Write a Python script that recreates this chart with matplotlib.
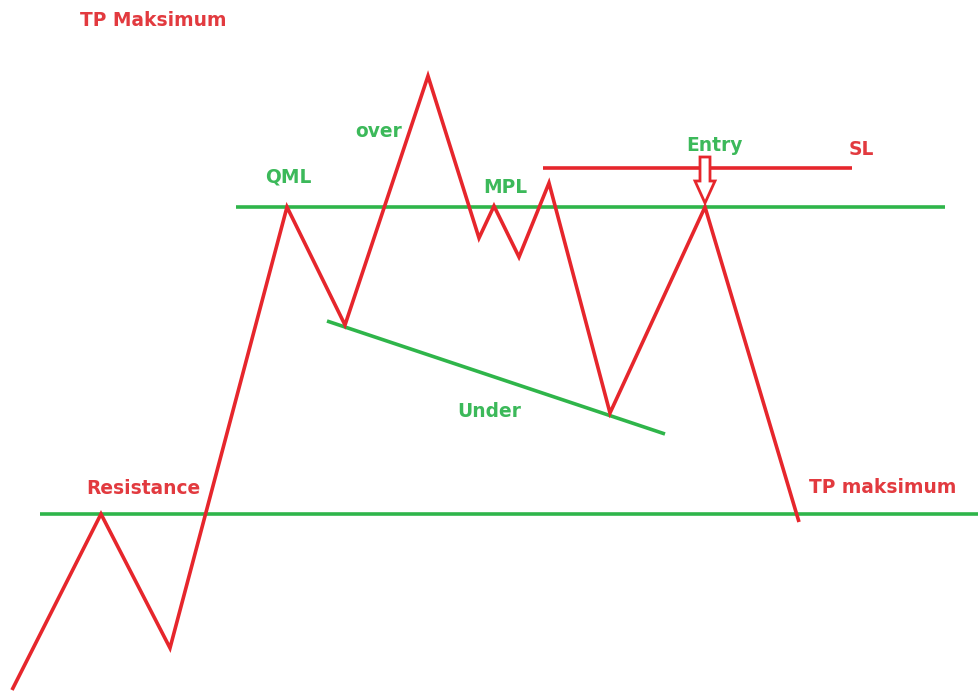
import matplotlib
matplotlib.use("Agg")
import matplotlib.pyplot as plt
from matplotlib.patches import Polygon

# Price path (pixel-space diagram coordinates)
path_x = [12, 101, 170, 287, 345, 428, 479, 494, 519, 549, 610, 705, 799]
path_y = [690, 514, 648, 207, 325, 76, 238, 206, 257, 183, 413, 207, 522]

# Horizontal levels: (y, x_start, x_end)
qml_level = (207, 236, 945)
resistance_level = (514, 40, 979)
sl_level = (168, 543, 852)
# Trendline "Under"
under_x = [327, 665]
under_y = [321, 434]

# Labels: (text, x, y, color, ha)
labels = [
    ("TP Maksimum", 80, 20, "red", "left"),
    ("QML", 288, 177, "green", "center"),
    ("over", 379, 131, "green", "center"),
    ("MPL", 505, 187, "green", "center"),
    ("Entry", 714, 145, "green", "center"),
    ("SL", 861, 149, "red", "center"),
    ("Under", 489, 411, "green", "center"),
    ("Resistance", 143, 488, "red", "center"),
    ("TP maksimum", 883, 487, "red", "center"),
]
entry_x, entry_top, entry_tip = 705, 157, 203

RED = "#e6262c"
GREEN = "#2fb54a"
TEXT_RED = "#e23a3f"
TEXT_GREEN = "#3cb95a"

fig = plt.figure(figsize=(9.79, 6.94), dpi=100)
ax = fig.add_axes([0, 0, 1, 1])
ax.set_xlim(0, 979)
ax.set_ylim(694, 0)
ax.axis("off")

lw = 2.6
ax.plot([qml_level[1], qml_level[2]], [qml_level[0]] * 2, color=GREEN, lw=lw, solid_capstyle="butt")
ax.plot([resistance_level[1], resistance_level[2]], [resistance_level[0]] * 2, color=GREEN, lw=lw, solid_capstyle="butt")
ax.plot(under_x, under_y, color=GREEN, lw=lw, solid_capstyle="butt")
ax.plot([sl_level[1], sl_level[2]], [sl_level[0]] * 2, color=RED, lw=lw, solid_capstyle="butt")
ax.plot(path_x, path_y, color=RED, lw=lw, solid_joinstyle="miter", solid_capstyle="butt", zorder=3)

# Hollow entry arrow
sw, hw = 5, 10
head_start = 181
arrow = Polygon([
    (entry_x - sw, entry_top), (entry_x + sw, entry_top), (entry_x + sw, head_start),
    (entry_x + hw, head_start), (entry_x, entry_tip), (entry_x - hw, head_start),
    (entry_x - sw, head_start)], closed=True, facecolor="white", edgecolor=RED, lw=2.0, zorder=4)
ax.add_patch(arrow)

cmap = {"red": TEXT_RED, "green": TEXT_GREEN}
for t, x, y, c, ha in labels:
    ax.text(x, y, t, color=cmap[c], ha=ha, va="center", fontsize=13.4,
            fontweight="bold", family="DejaVu Sans")

fig.savefig("out.png", dpi=100, facecolor="white")
